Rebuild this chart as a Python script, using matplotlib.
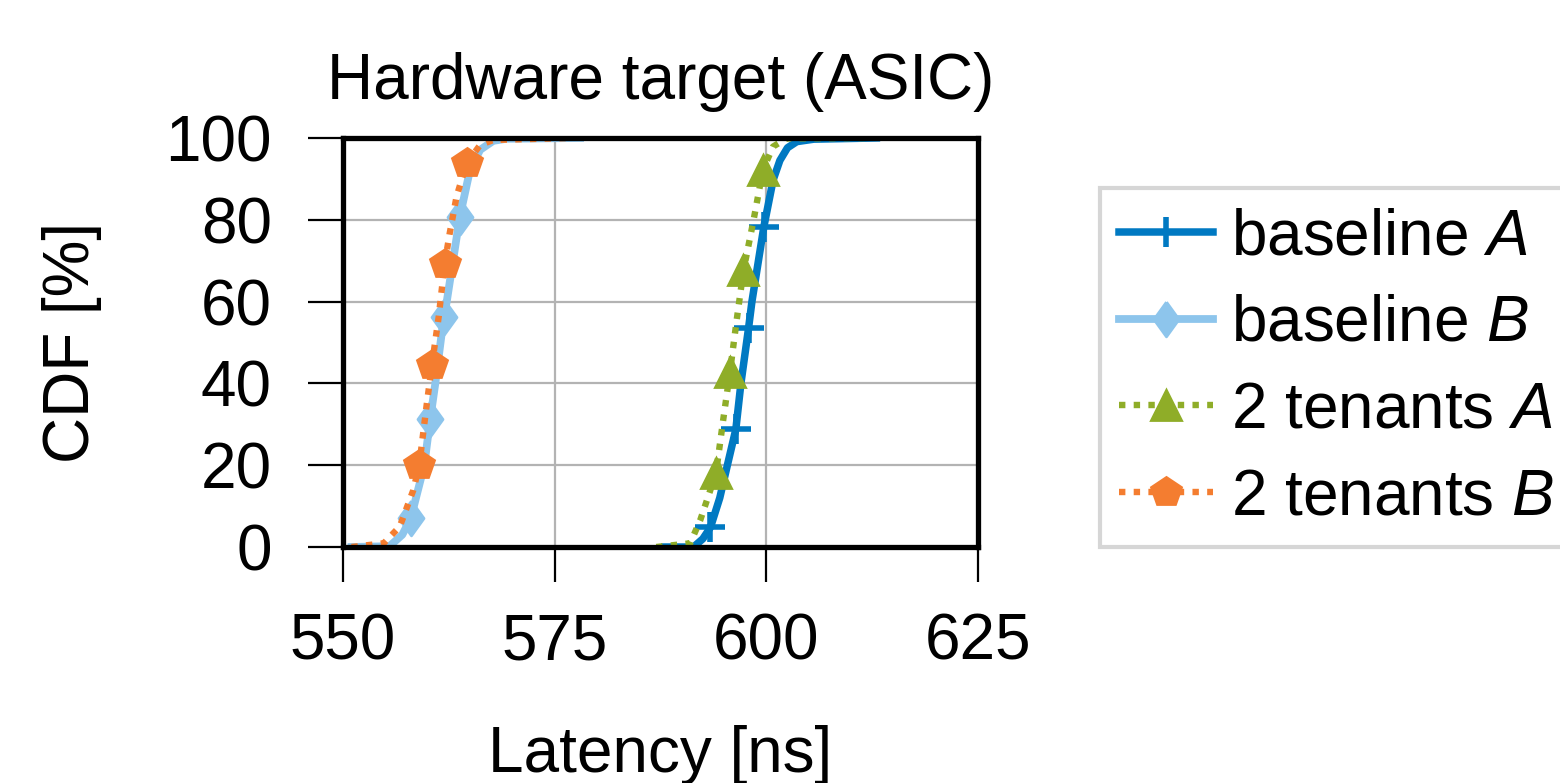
import matplotlib
matplotlib.use("Agg")
import matplotlib.pyplot as plt

plt.rcParams['font.family'] = ['Liberation Sans', 'DejaVu Sans']
plt.rcParams['mathtext.fontset'] = 'custom'
plt.rcParams['mathtext.rm'] = 'Liberation Sans'
plt.rcParams['mathtext.it'] = 'Liberation Sans:italic'

# CDF-Kurven
lat_base_a = [588.0, 591.4, 592.5, 593.4, 594.5, 595.4, 596.4, 597.0, 597.9, 598.3,
              599.7, 600.8, 601.6, 602.5, 603.6, 605.6, 613.0]
cdf_base_a = [0, 0, 2, 4.8, 12, 20, 28.8, 40, 53.5, 60, 78.2, 89.7, 94.5, 97.6, 99.1,
              99.7, 100]

lat_base_b = [551.0, 555.5, 557.0, 558.0, 559.6, 560.3, 560.9, 561.9, 562.25, 563.8,
              565.0, 566.2, 567.75, 569.3, 578.0]
cdf_base_b = [0, 0.2, 3, 7, 20, 31.3, 40, 56.2, 60, 80.8, 92.2, 97.1, 99.3, 99.8, 100]

lat_ten_a = [587.0, 591.0, 592.2, 594.05, 594.9, 595.7, 596.5, 597.3, 598.5, 599.6,
             600.8, 602.4, 612.0]
cdf_ten_a = [0, 0.9, 6.6, 18, 31, 42.7, 55.5, 67.6, 80, 92.2, 97.9, 99.9, 100]

lat_ten_b = [551.0, 554.8, 556.7, 558.3, 559.0, 559.9, 560.5, 561.3, 562.0, 562.6,
             563.4, 564.6, 566.2, 567.75, 577.0]
cdf_ten_b = [0, 0.9, 5, 13.9, 20, 35.1, 44.5, 56.3, 69.2, 76.7, 85.6, 93.8, 98.3, 99.5, 100]

labels = ['baseline $A$', 'baseline $B$', '2 tenants $A$', '2 tenants $B$']
x_ticks = [550, 575, 600, 625]
y_ticks = [0, 20, 40, 60, 80, 100]

fig = plt.figure(figsize=(7.8, 3.915), dpi=200)
ax = fig.add_axes([0.2199, 0.3014, 0.4070, 0.5224])

diamond = [(0, 1), (0.72, 0), (0, -1), (-0.72, 0), (0, 1)]
dots = (0, (1.0, 1.3))

ax.plot(lat_base_a, cdf_base_a, '-', color='#0079c2', lw=2.7, marker='+', ms=11,
        mew=2.0, markevery=[3, 6, 8, 10], label=labels[0])
ax.plot(lat_base_b, cdf_base_b, '-', color='#8dc5ec', lw=2.8, marker=diamond, ms=12.5,
        markevery=[3, 5, 7, 9], label=labels[1])
ax.plot(lat_ten_a, cdf_ten_a, color='#8fad28', lw=2.3, ls=dots, marker='^', ms=10.5,
        markevery=[3, 5, 7, 9], label=labels[2])
ax.plot(lat_ten_b, cdf_ten_b, color='#f47d30', lw=2.3, ls=dots, marker='p', ms=11,
        markevery=[4, 6, 8, 11], label=labels[3])

ax.set_xlim(550, 625)
ax.set_ylim(0, 100)
ax.set_xticks(x_ticks)
ax.set_yticks(y_ticks)
ax.grid(True, color='#b3b3b3', lw=0.8)
ax.set_axisbelow(True)
for s in ax.spines.values():
    s.set_linewidth(1.9)
    s.set_color('black')
ax.tick_params(direction='out', length=12.6, width=0.8, labelsize=23)
ax.tick_params(axis='x', pad=11)
ax.tick_params(axis='y', pad=13)

ax.set_title('Hardware target (ASIC)', fontsize=23, pad=14)
ax.set_xlabel('Latency [ns]', fontsize=23)
ax.set_ylabel('CDF [%]', fontsize=23)
ax.xaxis.set_label_coords(0.5, -0.435)
ax.yaxis.set_label_coords(-0.38, 0.5)

leg = fig.legend(loc='upper left', bbox_to_anchor=(0.705, 0.76), borderaxespad=0,
                 fontsize=23, frameon=True, fancybox=False, handlelength=1.47,
                 handletextpad=0.28, labelspacing=0.42, borderpad=0.3)
leg.get_frame().set_edgecolor('#cccccc')
leg.get_frame().set_linewidth(1.5)

fig.savefig('out.png', dpi=200)
